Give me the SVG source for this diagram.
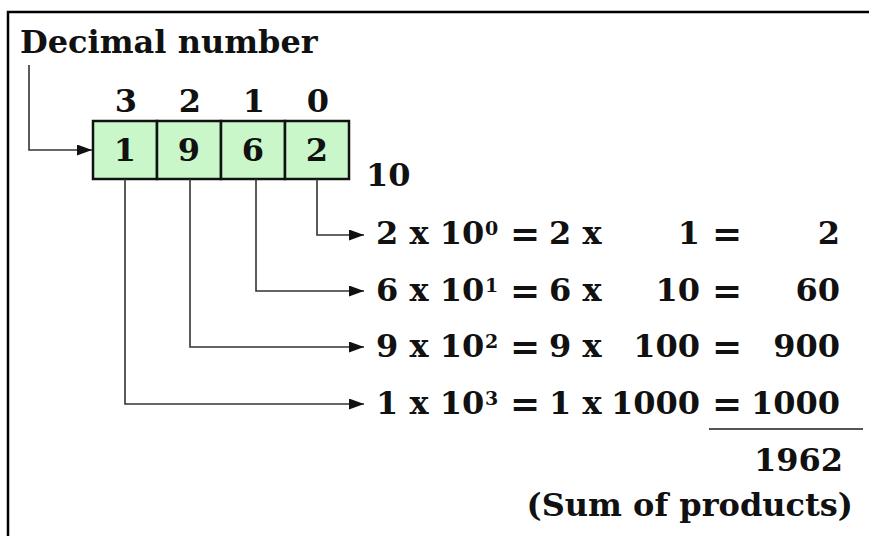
<svg xmlns="http://www.w3.org/2000/svg" width="869" height="536" viewBox="0 0 869 536">
<style>
text{font-family:"DejaVu Serif","Liberation Serif",serif;font-weight:bold;fill:#111;font-size:32px}
.sup{font-size:19px}
.eq{font-size:36px}
.m{text-anchor:middle}
.e{text-anchor:end}
.cell{fill:#c9f7c9;stroke:#111;stroke-width:2.5}
.conn{fill:none;stroke:#333;stroke-width:1.6}
</style>
<defs>
<marker id="arr" markerUnits="userSpaceOnUse" markerWidth="15" markerHeight="11" refX="15" refY="5.5" orient="auto">
<path d="M0,0 L15,5.5 L0,11 z" fill="#111"/>
</marker>
</defs>
<rect width="869" height="536" fill="#fff"/>
<path d="M8,536 V12 H869" fill="none" stroke="#000" stroke-width="2.5"/>

<g id="title"><text x="20" y="53">Decimal number</text></g>

<g id="positions">
<text class="m" x="126" y="112">3</text>
<text class="m" x="190" y="112">2</text>
<text class="m" x="254" y="112">1</text>
<text class="m" x="318" y="112">0</text>
</g>

<g id="digit-1"><rect class="cell" x="93" y="121" width="64" height="58"/><text class="m" x="125" y="161">1</text></g>
<g id="digit-9"><rect class="cell" x="157" y="121" width="64" height="58"/><text class="m" x="189" y="161">9</text></g>
<g id="digit-6"><rect class="cell" x="221" y="121" width="64" height="58"/><text class="m" x="253" y="161">6</text></g>
<g id="digit-2"><rect class="cell" x="285" y="121" width="64" height="58"/><text class="m" x="317" y="161">2</text></g>

<g id="base"><text x="366" y="186" font-size="30">10</text></g>

<g id="connectors">
<path class="conn" d="M29,65 V150 H92" marker-end="url(#arr)"/>
<path class="conn" d="M317,179 V235 H364" marker-end="url(#arr)"/>
<path class="conn" d="M256,179 V291 H364" marker-end="url(#arr)"/>
<path class="conn" d="M190,179 V347 H364" marker-end="url(#arr)"/>
<path class="conn" d="M125,179 V404 H364" marker-end="url(#arr)"/>
</g>

<g id="row-0">
<text x="376" y="244">2 x 10</text><text class="sup" x="485" y="235">0</text>
<text class="m eq" x="525" y="246">=</text><text x="549" y="244">2 x</text>
<text class="e" x="700" y="244">1</text><text class="m eq" x="727" y="246">=</text>
<text class="e" x="840" y="244">2</text>
</g>
<g id="row-1">
<text x="376" y="301">6 x 10</text><text class="sup" x="485" y="292">1</text>
<text class="m eq" x="525" y="303">=</text><text x="549" y="301">6 x</text>
<text class="e" x="700" y="301">10</text><text class="m eq" x="727" y="303">=</text>
<text class="e" x="840" y="301">60</text>
</g>
<g id="row-2">
<text x="376" y="357">9 x 10</text><text class="sup" x="485" y="348">2</text>
<text class="m eq" x="525" y="359">=</text><text x="549" y="357">9 x</text>
<text class="e" x="700" y="357">100</text><text class="m eq" x="727" y="359">=</text>
<text class="e" x="840" y="357">900</text>
</g>
<g id="row-3">
<text x="376" y="414">1 x 10</text><text class="sup" x="485" y="405">3</text>
<text class="m eq" x="525" y="416">=</text><text x="549" y="414">1 x</text>
<text class="e" x="700" y="414">1000</text><text class="m eq" x="727" y="416">=</text>
<text class="e" x="840" y="414">1000</text>
</g>

<g id="sum">
<line x1="709" y1="429" x2="863" y2="429" stroke="#555" stroke-width="2"/>
<text class="e" x="843" y="471">1962</text>
<text class="e" x="853" y="516">(Sum of products)</text>
</g>
</svg>
